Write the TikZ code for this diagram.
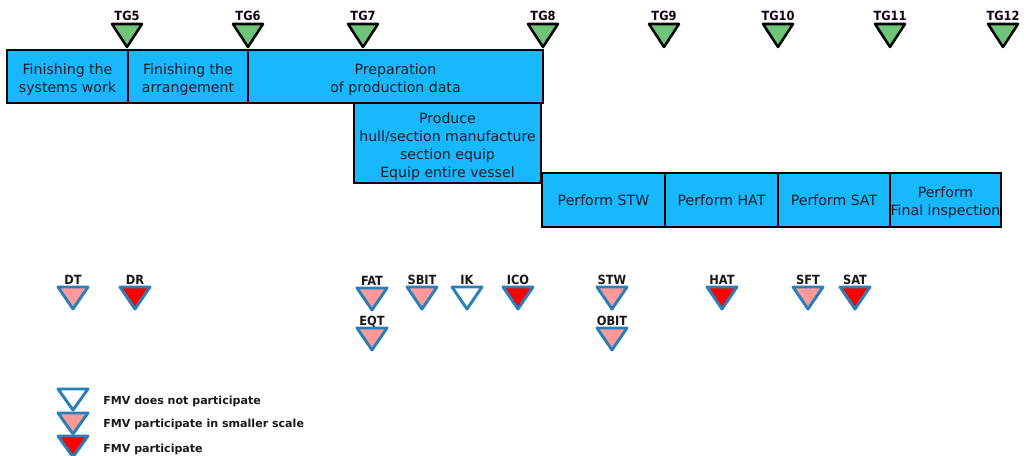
\documentclass[tikz,border=0pt]{standalone}
\usepackage{fontspec}
\setmainfont{DejaVu Sans}
\newfontfamily\condfont{DejaVu Sans Condensed}
\definecolor{boxblue}{RGB}{24,184,255}
\definecolor{boxtext}{RGB}{16,30,36}
\definecolor{gategreen}{RGB}{110,196,120}
\definecolor{milestroke}{RGB}{41,128,185}
\definecolor{milepink}{RGB}{255,153,153}
\definecolor{milered}{RGB}{255,0,0}

% toll gate: green triangle with label above
\newcommand\gate[3]{%
  \coordinate (#1) at (#2,24);
  \draw[gatetri] (#1) ++(-15,0) -- ++(30,0) -- ++(-15,23) -- cycle;
  \node[gatelbl] (#1-l) at (#2,21) {#3};}
% review milestone: blue-outlined triangle (name, x, top y, fill, label)
\newcommand\mile[5]{%
  \coordinate (#1) at (#2,#3);
  \draw[miletri,fill=#4] (#1) ++(-15,0) -- ++(30,0) -- ++(-15,22) -- cycle;
  \node[milelbl] (#1-l) at (#2,#3-2) {#5};}
% extra room above the first line of a multi-line box
\newcommand\toppad[1]{\rule{0pt}{#1}}

\begin{document}
\begin{tikzpicture}[x=0.75pt,y=-0.75pt,
  box/.style={draw=black, line width=1.9pt, fill=boxblue, text=boxtext,
    font=\fontsize{10.6}{13.5}\selectfont, align=center, inner sep=0pt},
  gatetri/.style={draw=black, line width=1.9pt, fill=gategreen, line join=round},
  gatelbl/.style={anchor=base, inner sep=0pt, text=black!85!violet,
    font=\condfont\bfseries\fontsize{9.5}{10}\selectfont},
  miletri/.style={draw=milestroke, line width=2.2pt, line join=round},
  milelbl/.style={anchor=base, inner sep=0pt, text=black!90,
    font=\condfont\bfseries\fontsize{9.5}{10}\selectfont},
  legtext/.style={anchor=base west, inner sep=0pt, text=black!90,
    font=\bfseries\fontsize{8.3}{9}\selectfont}]
\useasboundingbox (0,0) rectangle (1026,456);

% activity boxes
\node[box, minimum width=140.25pt, minimum height=60.75pt] (produce) at (447.5,142.5)
  {\toppad{14pt}Produce\\hull/section manufacture\\section equip\\Equip entire vessel};
\node[box, minimum width=90.75pt, minimum height=39.75pt] (sysw) at (67.5,76.5)
  {\toppad{12.5pt}Finishing the\\systems work};
\node[box, minimum width=90pt, minimum height=39.75pt] (arr) at (188,76.5)
  {\toppad{12.5pt}Finishing the\\arrangement};
\node[box, minimum width=221.25pt, minimum height=39.75pt] (prep) at (395.5,76.5)
  {\toppad{12.5pt}Preparation\\of production data};
\node[box, minimum width=92.25pt, minimum height=40.5pt] (pstw) at (603.5,200) {Perform STW};
\node[box, minimum width=84.75pt, minimum height=40.5pt] (phat) at (721.5,200) {Perform HAT};
\node[box, minimum width=84pt, minimum height=40.5pt] (psat) at (834,200) {Perform SAT};
\node[box, minimum width=83.25pt, minimum height=40.5pt] (pfin) at (945.5,200)
  {\toppad{12.5pt}Perform\\Final inspection};

% toll gates
\gate{tg5}{127}{TG5}
\gate{tg6}{248}{TG6}
\gate{tg7}{363}{TG7}
\gate{tg8}{543}{TG8}
\gate{tg9}{664}{TG9}
\gate{tg10}{778}{TG10}
\gate{tg11}{890}{TG11}
\gate{tg12}{1003}{TG12}

% reviews
\mile{dt}{73}{287}{milepink}{DT}
\mile{dr}{135}{287}{milered}{DR}
\mile{fat}{372}{288}{milepink}{FAT}
\mile{eqt}{372}{328}{milepink}{EQT}
\mile{sbit}{422}{287}{milepink}{SBIT}
\mile{ik}{467}{287}{white}{IK}
\mile{ico}{518}{287}{milered}{ICO}
\mile{stw}{612}{287}{milepink}{STW}
\mile{obit}{612}{328}{milepink}{OBIT}
\mile{hat}{722}{287}{milered}{HAT}
\mile{sft}{808}{287}{milepink}{SFT}
\mile{sat}{855}{287}{milered}{SAT}

% legend
\coordinate (lg1) at (73,389);
\coordinate (lg2) at (73,413);
\coordinate (lg3) at (73,436);
\draw[miletri,fill=white] (lg1) ++(-15,0) -- ++(30,0) -- ++(-15,21) -- cycle;
\draw[miletri,fill=milepink] (lg2) ++(-15,0) -- ++(30,0) -- ++(-15,21) -- cycle;
\draw[miletri,fill=milered] (lg3) ++(-15,0) -- ++(30,0) -- ++(-15,21) -- cycle;
\node[legtext] (lt1) at (103,404) {FMV does not participate};
\node[legtext] (lt2) at (103,427) {FMV participate in smaller scale};
\node[legtext] (lt3) at (103,452) {FMV participate};
\end{tikzpicture}
\end{document}
